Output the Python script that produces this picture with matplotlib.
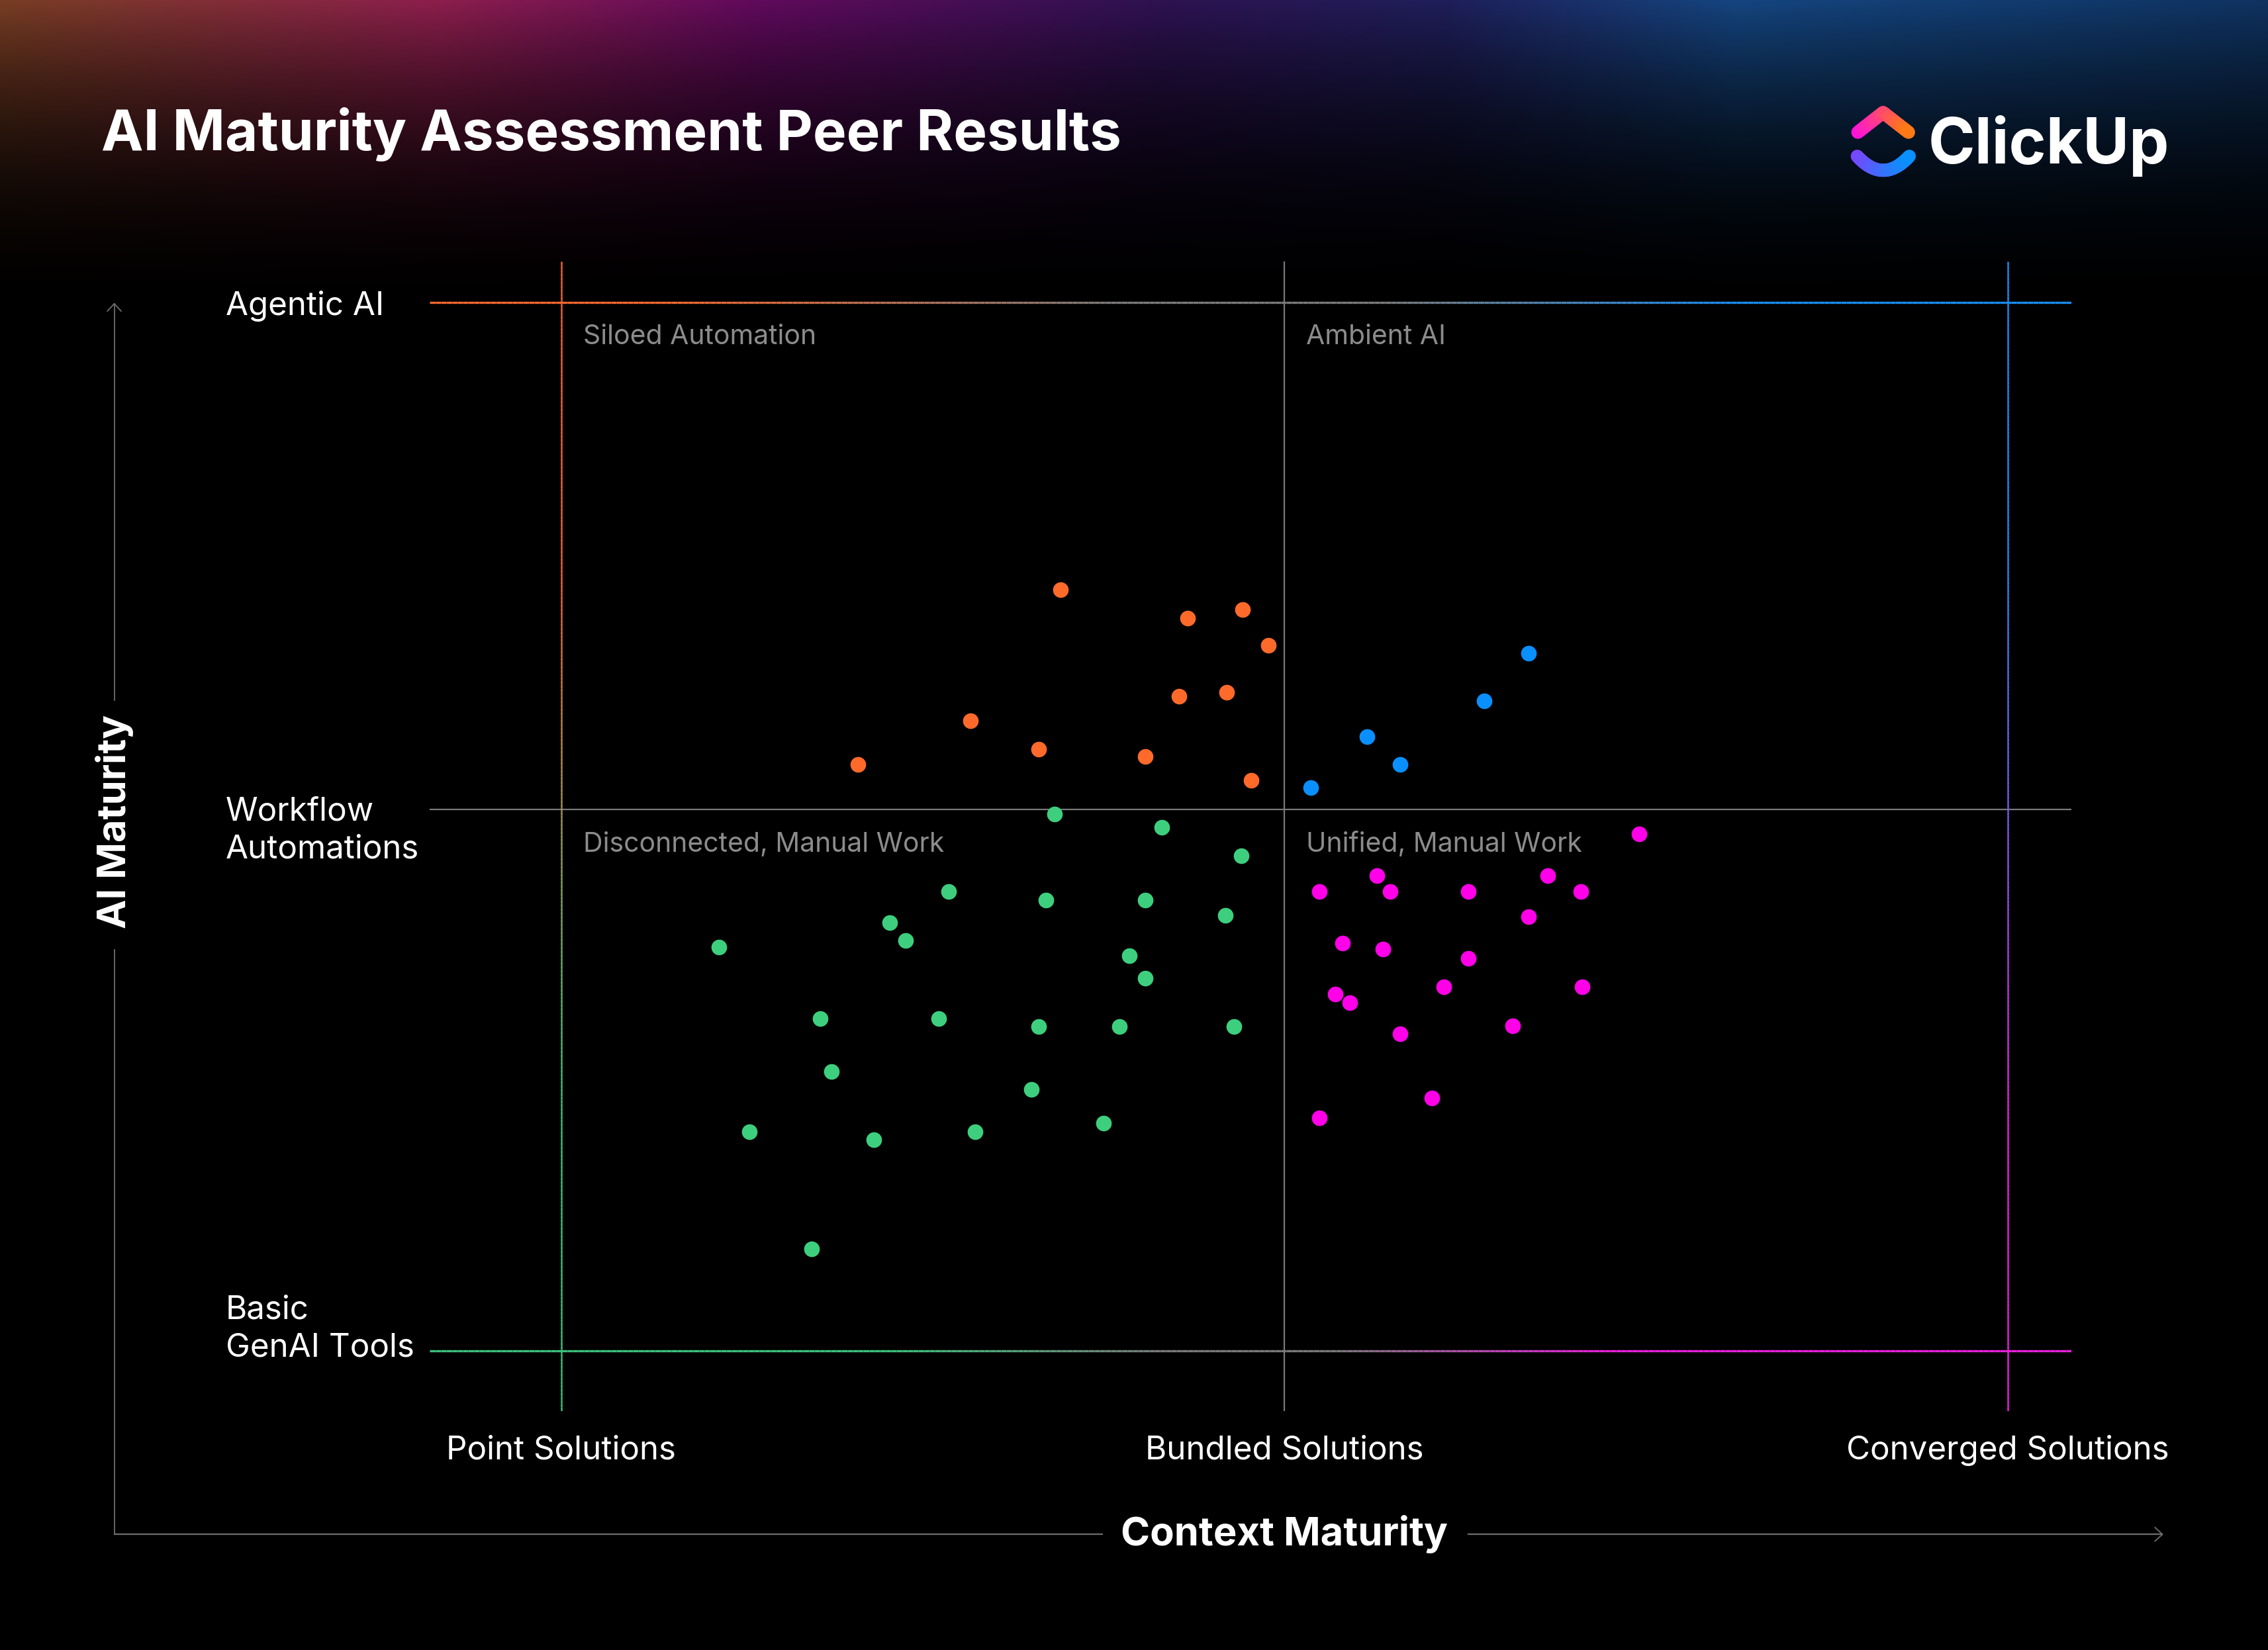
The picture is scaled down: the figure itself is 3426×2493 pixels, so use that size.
import numpy as np
import matplotlib
matplotlib.use("Agg")
import matplotlib.pyplot as plt
from matplotlib.collections import LineCollection
from matplotlib.colors import LinearSegmentedColormap
from matplotlib import transforms

plt.rcParams['font.family'] = ['Inter', 'DejaVu Sans']

# --- data -----------------------------------------------------------------
context_levels = [0, 50, 100]
context_labels = ["Point Solutions", "Bundled Solutions", "Converged Solutions"]
ai_levels = [0, 51.6, 100]
ai_labels = ["Basic\nGenAI Tools", "Workflow\nAutomations", "Agentic AI"]
quadrant_names = ["Siloed Automation", "Ambient AI",
                  "Disconnected, Manual Work", "Unified, Manual Work"]

siloed_x = [34.5, 43.3, 47.1, 48.9, 42.7, 46.0, 28.3, 33.0, 40.4, 20.5, 47.7]
siloed_y = [72.6, 69.9, 70.7, 67.3, 62.4, 62.8, 60.1, 57.4, 56.7, 55.9, 54.4]

ambient_x = [66.9, 63.8, 55.7, 58.0, 51.8]
ambient_y = [66.5, 62.0, 58.6, 55.9, 53.7]

unified_x = [74.5, 56.4, 52.4, 57.3, 62.7, 68.2, 70.5, 66.9, 54.0, 56.8,
             62.7, 61.0, 70.6, 53.5, 54.5, 58.0, 65.8, 60.2, 52.4]
unified_y = [49.3, 45.3, 43.8, 43.8, 43.8, 45.3, 43.8, 41.4, 38.9, 38.3,
             37.4, 34.7, 34.7, 34.0, 33.2, 30.2, 31.0, 24.1, 22.2]

disconnected_x = [34.1, 41.5, 47.0, 26.8, 33.5, 40.4, 45.9, 22.7, 23.8, 10.9,
                  39.3, 40.4, 17.9, 26.1, 33.0, 38.6, 46.5, 18.7, 32.5, 37.5,
                  13.0, 21.6, 28.6, 17.3]
disconnected_y = [51.2, 49.9, 47.2, 43.8, 43.0, 43.0, 41.5, 40.8, 39.1, 38.5,
                  37.7, 35.5, 31.7, 31.7, 30.9, 30.9, 30.9, 26.6, 24.9, 21.7,
                  20.9, 20.1, 20.9, 9.7]

# --- colours ----------------------------------------------------------------
ORANGE = '#FF6A2B'
BLUE = '#0A8FFF'
GREEN = '#3DCF7E'
MAGENTA = '#FF00E8'
LINE_OR = '#F26630'
LINE_BL = '#1A8CF0'
LINE_GR = '#3CC07C'
LINE_MG = '#E820DC'
GRAY = '#7a7a7a'
LABEL_GRAY = '#8c8c8c'

W, H = 1568, 1141          # layout units (reference at reduced scale)
PX = 3426 / W              # output pixels per layout unit
PT = PX * 72 / 100         # points per layout unit

fig = plt.figure(figsize=(34.26, 24.93), dpi=100, facecolor='black')
renderer = fig.canvas.get_renderer()

# background / decoration layer in layout units
bg = fig.add_axes([0, 0, 1, 1])
bg.set_facecolor('black')
bg.axis('off')

stops = [(0, (0.47, 0.24, 0.14)), (300, (0.55, 0.12, 0.30)),
         (520, (0.38, 0.04, 0.36)), (800, (0.18, 0.07, 0.32)),
         (1000, (0.12, 0.12, 0.35)), (1200, (0.08, 0.27, 0.50)),
         (1568, (0.06, 0.20, 0.38))]
xs = np.linspace(0, W, 400)
cols = np.stack([np.interp(xs, [s[0] for s in stops], [s[1][k] for s in stops])
                 for k in range(3)], axis=-1)
ys = np.linspace(0, 260, 200)
fall = np.clip(1 - ys / 225, 0, 1) ** 2.1
img = fall[:, None, None] * cols[None, :, :]
bg.imshow(img, extent=(0, W, 260, 0), aspect='auto', interpolation='bilinear', zorder=0)
bg.set_xlim(0, W)
bg.set_ylim(H, 0)


def fit(t, width):
    """scale font so the text is `width` layout units wide"""
    w = t.get_window_extent(renderer).width
    t.set_fontsize(t.get_fontsize() * width * PX / w)
    return t.get_fontsize()


def grad_line(axis, p0, p1, cstops, lw, n=300, cap='butt', z=2):
    t = np.linspace(0, 1, n)
    pts = np.column_stack([p0[0] + (p1[0] - p0[0]) * t, p0[1] + (p1[1] - p0[1]) * t])
    segs = np.stack([pts[:-1], pts[1:]], axis=1)
    cmap = LinearSegmentedColormap.from_list('g', cstops)
    lc = LineCollection(segs, colors=cmap((t[:-1] + t[1:]) / 2), linewidths=lw,
                        capstyle=cap, zorder=z)
    axis.add_collection(lc)


def grad_path(axis, pts, c0, c1, lw):
    pts = np.asarray(pts)
    segs = np.stack([pts[:-1], pts[1:]], axis=1)
    cmap = LinearSegmentedColormap.from_list('g', [c0, c1])
    t = np.linspace(0, 1, len(segs))
    lc = LineCollection(segs, colors=cmap(t), linewidths=lw, capstyle='round', zorder=3)
    axis.add_collection(lc)


# title
title = bg.text(70, 104, "AI Maturity Assessment Peer Results", color='white',
                fontsize=60, fontweight='bold', ha='left', va='baseline')
fit(title, 705)

# logo
u = np.linspace(0, 1, 60)
chev = np.concatenate([
    np.column_stack([1284.4 + (1301.9 - 1284.4) * u, 91.5 + (77.8 - 91.5) * u]),
    np.column_stack([1301.9 + (1319.5 - 1301.9) * u, 77.8 + (91.5 - 77.8) * u])])
grad_path(bg, chev, '#FF10E0', '#FF7A14', 9 * PT)
v = np.linspace(-1, 1, 80)
arc = np.column_stack([1302 + 18 * v, 108 + 9.8 * (1 - v ** 2)])
grad_path(bg, arc, '#7A46FF', '#0A90FF', 9 * PT)
logo = bg.text(1333, 113, "ClickUp", color='white', fontsize=60,
               fontweight='bold', ha='left', va='baseline')
fit(logo, 167)

# --- plot area ------------------------------------------------------------------
xmin, xmax = -9.08, 104.4
ymin, ymax = -5.77, 103.9
ax = fig.add_axes([297.2 / W, 1 - 975.8 / H, (1432 - 297.2) / W, (975.8 - 180.8) / H])
ax.set_xlim(xmin, xmax)
ax.set_ylim(ymin, ymax)
ax.axis('off')
ax.patch.set_alpha(0)

# level lines
grad_line(ax, (xmin, ai_levels[2]), (xmax, ai_levels[2]),
          [(0, LINE_OR), (0.14, LINE_OR), (0.42, GRAY), (0.58, GRAY),
           (0.8, LINE_BL), (1, LINE_BL)], 2.4)
grad_line(ax, (xmin, ai_levels[0]), (xmax, ai_levels[0]),
          [(0, LINE_GR), (0.28, LINE_GR), (0.45, GRAY), (0.55, GRAY),
           (0.72, LINE_MG), (1, LINE_MG)], 2.4)
ax.plot([xmin, xmax], [ai_levels[1]] * 2, color=GRAY, lw=1.6, zorder=2)
grad_line(ax, (context_levels[0], ymin), (context_levels[0], ymax),
          [(0, LINE_GR), (0.25, LINE_GR), (0.52, '#a09660'), (0.72, LINE_OR),
           (1, LINE_OR)], 1.8)
ax.plot([context_levels[1]] * 2, [ymin, ymax], color=GRAY, lw=1.6, zorder=2)
grad_line(ax, (context_levels[2], ymin), (context_levels[2], ymax),
          [(0, LINE_MG), (0.25, LINE_MG), (0.75, LINE_BL), (1, LINE_BL)], 1.8)

# points
dot = dict(s=290, linewidths=0, zorder=5)
ax.scatter(disconnected_x, disconnected_y, color=GREEN, **dot)
ax.scatter(siloed_x, siloed_y, color=ORANGE, **dot)
ax.scatter(ambient_x, ambient_y, color=BLUE, **dot)
ax.scatter(unified_x, unified_y, color=MAGENTA, **dot)

# quadrant labels
q_pos = [(context_levels[0], ai_levels[2]), (context_levels[1], ai_levels[2]),
         (context_levels[0], ai_levels[1]), (context_levels[1], ai_levels[1])]
q_trans = transforms.offset_copy(ax.transData, fig=fig, x=15 * PT, y=-24 * PT,
                                 units='points')
qt = []
for name, (qx, qy) in zip(quadrant_names, q_pos):
    qt.append(ax.text(qx, qy, name, color=LABEL_GRAY, fontsize=28, ha='left',
                      va='center', transform=q_trans))
qs = fit(qt[2], 250)
for t in qt:
    t.set_fontsize(qs)

# y level labels
ytr = transforms.blended_transform_factory(bg.transData, ax.transData)
y_off = [15, -14.5, -2.5]
yl = []
for lab, lev, off in zip(ai_labels, ai_levels, y_off):
    tr = transforms.offset_copy(ytr, fig=fig, y=off * PT, units='points')
    yl.append(bg.text(156, lev, lab, color='white', fontsize=34, ha='left',
                      va='center', linespacing=1.32, transform=tr))
ref = bg.text(0, -100, "Automations", fontsize=34)
ls = fit(ref, 134)
ref.remove()
for t in yl:
    t.set_fontsize(ls)

# x level labels
xtr = transforms.blended_transform_factory(ax.transData, bg.transData)
for lab, lev in zip(context_labels, context_levels):
    bg.text(lev, 1003, lab, color='white', fontsize=ls, ha='center',
            va='center', transform=xtr)

# axis titles with arrows
acol = '#6e6e6e'
bg.plot([79, 79], [1061, 657], color=acol, lw=1.3)
bg.plot([79, 79], [484, 210], color=acol, lw=1.3)
bg.plot([74.3, 79, 83.7], [215.1, 210, 215.1], color=acol, lw=1.3)
bg.plot([79, 762], [1061, 1061], color=acol, lw=1.6)
bg.plot([1015, 1495], [1061, 1061], color=acol, lw=1.6)
bg.plot([1489.9, 1495, 1489.9], [1056.3, 1061, 1065.7], color=acol, lw=1.3)

ctx = bg.text(context_levels[1], 1061, "Context Maturity", color='white',
              fontsize=36, fontweight='bold', ha='center', va='center',
              transform=xtr)
asz = fit(ctx, 226)
bg.text(79, 568, "AI Maturity", color='white', fontsize=asz, fontweight='bold',
        ha='center', va='center', rotation=90)

fig.savefig("out.png", dpi=100, facecolor='black')
